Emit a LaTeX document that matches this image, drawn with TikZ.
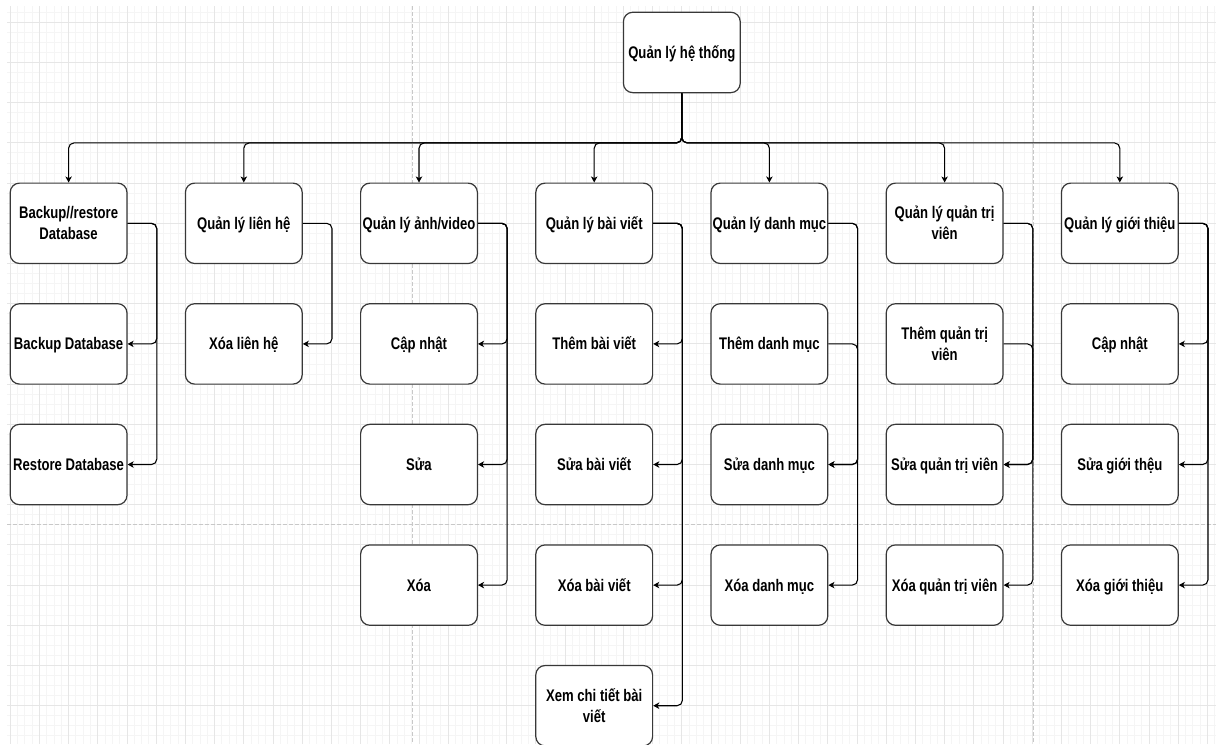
\documentclass[tikz,border=0pt]{standalone}
\usepackage{fontspec}
\newfontfamily\boxfont{Liberation Sans}[FakeStretch=0.78]
\usetikzlibrary{arrows.meta,calc}
\definecolor{gridminor}{HTML}{F5F5F5}
\definecolor{gridmajor}{HTML}{E6E6E6}
\definecolor{pagebreak}{HTML}{C8C8C8}
\definecolor{boxline}{HTML}{383838}
\tikzset{
  box/.style={draw=boxline, line width=0.9pt, rounded corners=7pt, fill=white,
    minimum width=87.6pt, minimum height=60.3pt, inner sep=0pt,
    font=\boxfont\bfseries\fontsize{12.6pt}{15.75pt}\selectfont,
    text height=9pt, text depth=0pt},
  twoline/.style={text width=87.6pt, align=flush center, text depth=15.75pt},
  conn/.style={draw=black, line width=0.8pt, rounded corners=4pt},
  arr/.style={conn, -{Stealth[length=4.5pt,width=4.8pt,inset=1.2pt]}},
  minorline/.style={draw=gridminor, line width=0.75pt},
  majorline/.style={draw=gridmajor, line width=0.75pt},
  pageline/.style={draw=pagebreak, line width=0.75pt, dash pattern=on 3pt off 1.5pt},
}
\begin{document}
\begin{tikzpicture}[x=0.75pt,y=-0.75pt]
\useasboundingbox (0,0) rectangle (1216,744);
\fill[white] (0,0) rectangle (1216,744);

% background grid with page breaks
\begin{scope}
  \clip (7,6) rectangle (1216,744);
  \foreach \i in {0,...,165} \draw[minorline] ({10.2+7.3*\i},6) -- ++(0,738);
  \foreach \j in {0,...,73} \draw[minorline] (7,{12.25+10.05*\j}) -- ++(1209,0);
  \foreach \i in {0,...,41} \draw[majorline] ({10.2+29.2*\i},6) -- ++(0,738);
  \foreach \j in {0,...,18} \draw[majorline] (7,{22.3+40.2*\j}) -- ++(1209,0);
  \draw[pageline] (412.3,6) -- (412.3,744);
  \draw[pageline] (1033.3,6) -- (1033.3,744);
  \draw[pageline] (7,524.8) -- (1216,524.8);
\end{scope}

% root
\node[box] (top) at (681.8,52.45) {Quản lý hệ thống};

% first level
\node[box,twoline] (p1) at (68.6,223.3) {Backup//restore\\Database};
\node[box] (p2) at (243.8,223.3) {Quản lý liên hệ};
\node[box] (p3) at (419.0,223.3) {Quản lý ảnh/video};
\node[box] (p4) at (594.2,223.3) {Quản lý bài viết};
\node[box] (p5) at (769.4,223.3) {Quản lý danh mục};
\node[box,twoline] (p6) at (944.6,223.3) {Quản lý quản trị\\viên};
\node[box] (p7) at (1119.8,223.3) {Quản lý giới thiệu};

% second level
\node[box] (a2) at (68.6,343.9) {Backup Database};
\node[box] (a3) at (68.6,464.5) {Restore Database};

\node[box] (b2) at (243.8,343.9) {Xóa liên hệ};

\node[box] (c2) at (419.0,343.9) {Cập nhật};
\node[box] (c3) at (419.0,464.5) {Sửa};
\node[box] (c4) at (419.0,585.1) {Xóa};

\node[box] (d2) at (594.2,343.9) {Thêm bài viết};
\node[box] (d3) at (594.2,464.5) {Sửa bài viết};
\node[box] (d4) at (594.2,585.1) {Xóa bài viết};
\node[box,twoline] (d5) at (594.2,705.7) {Xem chi tiết bài\\viết};

\node[box] (e2) at (769.4,343.9) {Thêm danh mục};
\node[box] (e3) at (769.4,464.5) {Sửa danh mục};
\node[box] (e4) at (769.4,585.1) {Xóa danh mục};

\node[box,twoline] (f2) at (944.6,343.9) {Thêm quản trị\\viên};
\node[box] (f3) at (944.6,464.5) {Sửa quản trị viên};
\node[box] (f4) at (944.6,585.1) {Xóa quản trị viên};

\node[box] (g2) at (1119.8,343.9) {Cập nhật};
\node[box] (g3) at (1119.8,464.5) {Sửa giới thệu};
\node[box] (g4) at (1119.8,585.1) {Xóa giới thiệu};

% root to first level through the bus
\coordinate (bus) at (0,142.9);
\foreach \n in {p1,p2,p3,p4,p5,p6,p7}
  \draw[arr] (top.south) |- (bus -| \n.north) -- (\n.north);

% side rails of each column
\foreach \n/\v in {p1/v1,p2/v2,p3/v3,p4/v4,p5/v5,p6/v6,p7/v7}
  \coordinate (\v) at ($(\n.east)+(29.2,0)$);

\foreach \c in {a2,a3} \draw[arr] (p1.east) -- (v1) |- (\c.east);
\draw[arr] (p2.east) -- (v2) |- (b2.east);
\foreach \c in {c2,c3,c4} \draw[arr] (p3.east) -- (v3) |- (\c.east);
\foreach \c in {d2,d3,d4,d5} \draw[arr] (p4.east) -- (v4) |- (\c.east);
\foreach \c in {e3,e4} \draw[arr] (p5.east) -- (v5) |- (\c.east);
\draw[arr] (e2.east) -| (v5 |- e3.east) -- (e3.east);
\foreach \c in {f3,f4} \draw[arr] (p6.east) -- (v6) |- (\c.east);
\draw[arr] (f2.east) -| (v6 |- f3.east) -- (f3.east);
\foreach \c in {g2,g3,g4} \draw[arr] (p7.east) -- (v7) |- (\c.east);
\end{tikzpicture}
\end{document}
